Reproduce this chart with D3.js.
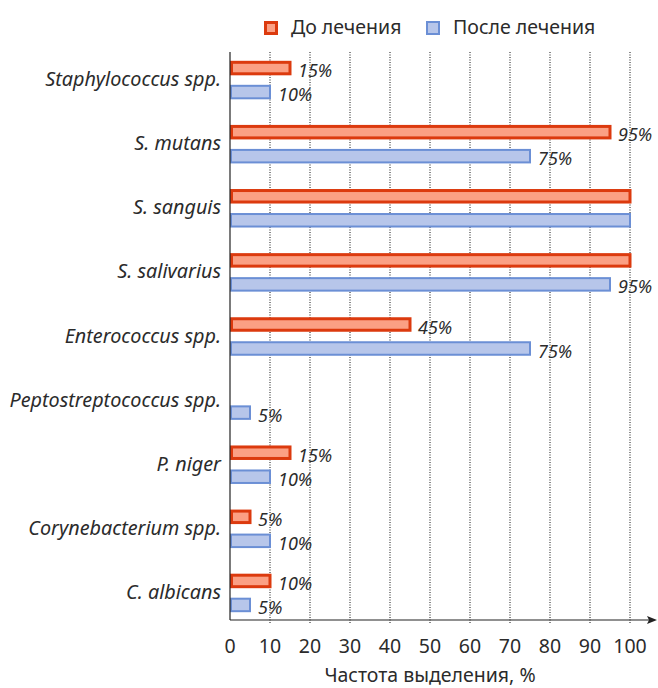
<!DOCTYPE html>
<html>
<head>
<meta charset="utf-8">
<script src="https://cdn.jsdelivr.net/npm/d3@7"></script>
<style>
  body { margin: 0; background: #fff; }
  text { font-family: "Noto Sans", "Open Sans", sans-serif; fill: #2b2b2b; }
</style>
</head>
<body>
<svg id="chart" width="658" height="688"></svg>
<script>
//------------------------------------------------------------------------------
//Data
//------------------------------------------------------------------------------
var categories = ["Staphylococcus spp.", "S. mutans", "S. sanguis", "S. salivarius",
  "Enterococcus spp.", "Peptostreptococcus spp.", "P. niger", "Corynebacterium spp.", "C. albicans"];
var before = [15, 95, 100, 100, 45, 0, 15, 5, 10];   // До лечения
var after = [10, 75, 100, 95, 75, 5, 10, 10, 5];     // После лечения
var seriesNames = ["До лечения", "После лечения"];
var xTicks = [0, 10, 20, 30, 40, 50, 60, 70, 80, 90, 100];
var xTitle = "Частота выделения, %";

//------------------------------------------------------------------------------
//Chart
//------------------------------------------------------------------------------
var svg = d3.select("#chart");
var axisY = 620, plotTop = 52;

var x = d3.scaleLinear().domain([0, 100]).range([230, 630]);
var y = d3.scaleBand().domain(categories).range([48, 625]);

var series = [
  { name: seriesNames[0], values: before, fill: "#fba084", stroke: "#dc3a0e", sw: 3, h: 11.5, off: -12 },
  { name: seriesNames[1], values: after, fill: "#b7c6ea", stroke: "#6b8fd5", sw: 2, h: 12.5, off: 12 }
];

// dotted gridlines
svg.append("g")
  .selectAll("line")
  .data(xTicks.slice(1))
  .enter()
  .append("line")
    .attr("x1", function (d) { return x(d); })
    .attr("x2", function (d) { return x(d); })
    .attr("y1", plotTop)
    .attr("y2", axisY + 4)
    .attr("stroke", "#111")
    .attr("stroke-width", 1)
    .attr("stroke-dasharray", "1,1.5");

// bars
series.forEach(function (s) {
  var g = svg.append("g");
  categories.forEach(function (c, i) {
    var v = s.values[i];
    if (v <= 0) return;
    var cy = y(c) + y.bandwidth() / 2 + s.off;
    g.append("rect")
      .attr("x", x(0) + s.sw / 2)
      .attr("y", cy - s.h / 2)
      .attr("width", x(v) - x(0) - s.sw / 2)
      .attr("height", s.h)
      .attr("fill", s.fill)
      .attr("stroke", s.stroke)
      .attr("stroke-width", s.sw);
    if (v < 100) {
      g.append("text")
        .attr("x", x(v) + 8)
        .attr("y", cy + 9)
        .attr("font-size", "18px")
        .attr("font-style", "italic")
        .text(v + "%");
    }
  });
});

// category labels
svg.append("g")
  .selectAll("text")
  .data(categories)
  .enter()
  .append("text")
    .attr("x", 221)
    .attr("y", function (d) { return y(d) + y.bandwidth() / 2 + 6; })
    .attr("text-anchor", "end")
    .attr("font-size", "19.8px")
    .attr("font-style", "italic")
    .text(function (d) { return d; });

// axes lines
svg.append("line")
  .attr("x1", x(0)).attr("x2", x(0))
  .attr("y1", plotTop).attr("y2", axisY)
  .attr("stroke", "#222").attr("stroke-width", 1.2);

svg.append("line")
  .attr("x1", x(0)).attr("x2", 650)
  .attr("y1", axisY).attr("y2", axisY)
  .attr("stroke", "#222").attr("stroke-width", 1.2);

svg.append("path")
  .attr("d", "M657," + axisY + " L647," + (axisY - 4) + " L649," + axisY + " L647," + (axisY + 4) + " Z")
  .attr("fill", "#222");

// tick labels
svg.append("g")
  .selectAll("text")
  .data(xTicks)
  .enter()
  .append("text")
    .attr("x", function (d) { return x(d); })
    .attr("y", 653)
    .attr("text-anchor", "middle")
    .attr("font-size", "19.5px")
    .text(function (d) { return d; });

svg.append("text")
  .attr("x", 430)
  .attr("y", 682)
  .attr("text-anchor", "middle")
  .attr("font-size", "19.5px")
  .text(xTitle);

// legend
var legend = svg.append("g");
var legX = [264, 426];
series.forEach(function (s, i) {
  legend.append("rect")
    .attr("x", legX[i] + s.sw / 2)
    .attr("y", 21 + s.sw / 2)
    .attr("width", 14 - s.sw)
    .attr("height", 14 - s.sw)
    .attr("fill", s.fill)
    .attr("stroke", s.stroke)
    .attr("stroke-width", s.sw);
  legend.append("text")
    .attr("x", legX[i] + 27)
    .attr("y", 34)
    .attr("font-size", "19.5px")
    .text(s.name);
});
</script>
</body>
</html>
